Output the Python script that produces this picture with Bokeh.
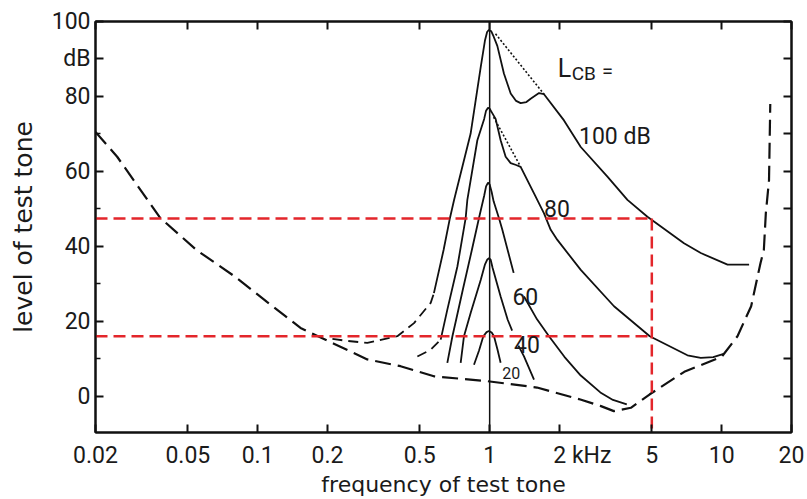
import math
from bokeh.plotting import figure
from bokeh.models import FixedTicker, LinearAxis, LogAxis, Span, Label, CustomJSTickFormatter
from bokeh.embed import file_html
from bokeh.resources import INLINE

NAN = float("nan")
PAD = "\u00a0" * 8   # keeps the "2" of "2 kHz" centred on its tick

# ---------------- axis ticks ----------------
freq_ticks = [0.02, 0.05, 0.1, 0.2, 0.5, 1, 2, 5, 10, 20]
freq_tick_labels = ["0.02", "0.05", "0.1", "0.2", "0.5", "1", PAD + "2 kHz", "5", "10", "20"]
level_ticks = [0, 20, 40, 60, 80, 90, 100]
level_tick_labels = ["0", "20", "40", "60", "80", "dB", "100"]
level_minor_ticks = [10, 30, 50, 70]
right_ticks = [0, 10, 20, 30, 40, 50, 60, 70, 80, 90, 100]
x_min, x_max = 0.02, 20
y_min, y_max = -9.7, 100

# ---------------- threshold in quiet (dashed) ----------------
thr_f = [0.02, 0.0248, 0.038, 0.0545, 0.079, 0.110, 0.153, 0.213, 0.297, 0.413, 0.575, 0.978,
         1.6, 2.46, 3.0, 3.43, 4.06, 4.9, 6.9, 10.0, 11.7, 13.4, 14.7, 15.2, 15.5, 16.0, 16.2]
thr_L = [70.5, 63.9, 47.6, 39.0, 32.1, 25.1, 18.2, 14.0, 9.8, 8.0, 5.3, 4.0,
         2.3, -0.9, -2.6, -4.0, -3.1, 0.5, 6.5, 10.5, 16.0, 24.0, 35.5, 39.0, 48.8, 57.6, 78.0]

# ---------------- masked thresholds, masker: 1 kHz critical-band noise ----------------
# L_CB = 100 dB
c100_f = [0.575, 0.633, 0.674, 0.702, 0.828, 0.915, 0.955, 0.975, 0.993, 1.015, 1.04, 1.079, 1.152,
          1.232, 1.30, 1.36, 1.44, 1.502, 1.632, 1.715, 2.091, 2.47, 3.218, 3.925, 4.786, 6.88,
          8.13, 10.6, 13.13]
c100_L = [27.5, 39.0, 47.5, 52.3, 70.1, 87.8, 95.0, 97.2, 97.8, 97.4, 96.0, 93.5, 86.1,
          80.8, 78.8, 78.2, 78.5, 79.4, 80.9, 80.6, 73.6, 66.5, 58.6, 52.4, 47.9, 40.8,
          38.2, 35.1, 35.1]
c100_ext_f = [0.21, 0.239, 0.297, 0.40, 0.472, 0.557, 0.575]
c100_ext_L = [15.3, 14.8, 14.2, 16.0, 19.5, 24.9, 27.5]
c100_dot_f = [1.06, 1.715]
c100_dot_L = [96.7, 80.6]

# L_CB = 80 dB
c80_f = [0.615, 0.657, 0.726, 0.788, 0.801, 0.885, 0.947, 0.965, 0.984, 1.0, 1.02, 1.061, 1.115,
         1.172, 1.232, 1.30, 1.36, 1.553, 1.715, 1.833, 1.958, 2.47, 3.436, 4.9, 7.12, 8.13,
         9.2, 10.2]
c80_L = [15.1, 23.1, 34.6, 47.5, 52.3, 68.3, 74.0, 76.2, 77.0, 76.7, 75.8, 74.0, 68.3,
         63.9, 62.2, 61.7, 61.2, 54.1, 48.8, 44.4, 41.7, 33.7, 24.0, 16.0, 10.9, 10.2,
         10.4, 11.3]
c80_ext_f = [0.488, 0.557, 0.615]
c80_ext_L = [10.6, 12.4, 15.1]
c80_dot_f = [1.04, 1.36]
c80_dot_L = [74.5, 61.2]

# L_CB = 60 dB (gap where the label sits)
c60_f = [0.657, 0.691, 0.717, 0.766, 0.838, 0.899, 0.947, 0.965, 0.984, 1.0, 1.02, 1.04, 1.097,
         1.134, 1.269, NAN, 1.406, 1.6, 1.802, 2.1, 2.47, 3.0, 3.4, 3.9]
c60_L = [8.9, 16.0, 20.4, 28.4, 39.0, 47.5, 53.5, 56.0, 57.0, 56.5, 54.5, 52.0, 47.5,
         44.4, 32.9, NAN, 26.6, 20.5, 16.0, 10.5, 5.5, 1.0, -1.0, -2.2]

# L_CB = 40 dB (gap where the label sits)
c40_f = [0.75, 0.775, 0.828, 0.915, 0.955, 0.975, 0.993, 1.01, 1.03, 1.115, 1.196, 1.25,
         NAN, 1.33, 1.406, 1.553]
c40_L = [8.9, 16.0, 22.2, 31.0, 35.2, 36.4, 36.8, 36.4, 34.2, 26.6, 20.4, 17.5,
         NAN, 13.5, 10.6, 4.4]

# L_CB = 20 dB
c20_f = [0.856, 0.90, 0.939, 0.97, 0.993, 1.02, 1.044, 1.08, 1.115]
c20_L = [8.4, 12.2, 16.0, 17.1, 17.4, 17.0, 16.0, 12.5, 8.9]

# masker centre frequency, and the read-out example (5 kHz test tone)
masker_f = 1.0
example_f = 5.0
example_L = [47.4, 16.0]

# curve labels
curve_labels = ["100 dB", "80", "60", "40", "20"]
curve_label_f = [2.427, 1.715, 1.253, 1.273, 1.134]
curve_label_L = [69.2, 50.1, 26.6, 13.8, 6.2]

INK = "#111111"
TXT = "#1a1a1a"
RED = "#e3262b"
TICK_FONT = "Roboto"
TITLE_FONT = "DejaVu Sans"

p = figure(width=807, height=499, x_axis_type="log",
           x_range=(x_min, x_max), y_range=(y_min, y_max),
           output_backend="svg", toolbar_location=None,
           min_border_left=95, min_border_right=16, min_border_top=21, min_border_bottom=66)
p.background_fill_color = "white"
p.border_fill_color = "white"
p.outline_line_color = INK
p.outline_line_width = 2
p.xgrid.visible = False
p.ygrid.visible = False


def style_axis(ax):
    ax.axis_line_color = INK
    ax.axis_line_width = 2
    ax.major_tick_line_color = INK
    ax.major_tick_line_width = 2
    ax.major_tick_in = 8
    ax.major_tick_out = 0
    ax.minor_tick_line_color = INK
    ax.minor_tick_line_width = 1.5
    ax.minor_tick_in = 5
    ax.minor_tick_out = 0
    ax.major_label_text_font = TICK_FONT
    ax.major_label_text_font_size = "23px"
    ax.major_label_text_color = TXT
    ax.axis_label_text_font = TITLE_FONT
    ax.axis_label_text_font_style = "normal"
    ax.axis_label_text_color = TXT


# bottom axis
xa = p.xaxis[0]
style_axis(xa)
xa.ticker = FixedTicker(ticks=freq_ticks, minor_ticks=[])
xa.formatter = CustomJSTickFormatter(code="return tick.toString()")
xa.major_label_overrides = dict(zip(freq_ticks, freq_tick_labels))
xa.major_label_standoff = 9
xa.axis_label = "frequency of test tone"
xa.axis_label_text_font_size = "22px"
xa.axis_label_standoff = 0

# left axis
ya = p.yaxis[0]
style_axis(ya)
ya.ticker = FixedTicker(ticks=level_ticks, minor_ticks=level_minor_ticks)
ya.major_label_overrides = dict(zip(level_ticks, level_tick_labels))
ya.major_label_standoff = 5
ya.axis_label = "level of test tone"
ya.axis_label_text_font_size = "25px"
ya.axis_label_standoff = 11

# top axis (ticks only)
ta = LogAxis()
style_axis(ta)
ta.ticker = FixedTicker(ticks=freq_ticks, minor_ticks=[])
ta.major_label_text_font_size = "1px"
ta.major_label_text_color = None
ta.major_label_standoff = 0
p.add_layout(ta, "above")

# right axis (ticks only)
ra = LinearAxis()
style_axis(ra)
ra.ticker = FixedTicker(ticks=right_ticks, minor_ticks=[])
ra.major_label_text_font_size = "1px"
ra.major_label_text_color = None
ra.major_label_standoff = 0
p.add_layout(ra, "right")

# masker frequency line
p.add_layout(Span(location=masker_f, dimension="height", line_color=INK, line_width=1.5))

# threshold in quiet
p.line(thr_f, thr_L, line_color=INK, line_width=2.2, line_dash="16 7")

# masked thresholds
for fs, ls in [(c100_f, c100_L), (c80_f, c80_L), (c60_f, c60_L), (c40_f, c40_L), (c20_f, c20_L)]:
    p.line(fs, ls, line_color=INK, line_width=1.8)
for fs, ls in [(c100_ext_f, c100_ext_L), (c80_ext_f, c80_ext_L)]:
    p.line(fs, ls, line_color=INK, line_width=1.8, line_dash="10 6")
for fs, ls in [(c100_dot_f, c100_dot_L), (c80_dot_f, c80_dot_L)]:
    p.line(fs, ls, line_color=INK, line_width=1.6, line_dash="2 2")

# red read-out lines
for L in example_L:
    p.line([x_min, example_f], [L, L], line_color=RED, line_width=2.5, line_dash="12 6")
p.line([example_f, example_f], [example_L[0], y_min], line_color=RED, line_width=2.5,
       line_dash="12 6")

# curve labels
for txt, fx, ly in zip(curve_labels, curve_label_f, curve_label_L):
    size = "16px" if txt == "20" else "23px"
    p.add_layout(Label(x=fx, y=ly, text=txt, text_font=TICK_FONT, text_font_size=size,
                       text_color=TXT, text_align="left", text_baseline="alphabetic"))

# L_CB =
p.add_layout(Label(x=1.965, y=87.5, text="L", text_font=TICK_FONT, text_font_size="25px",
                   text_color=TXT, text_align="left", text_baseline="alphabetic"))
p.add_layout(Label(x=2.257, y=86.2, text="CB", text_font=TICK_FONT, text_font_size="19px",
                   text_color=TXT, text_align="left", text_baseline="alphabetic"))
p.add_layout(Label(x=3.05, y=86.9, text="=", text_font=TICK_FONT, text_font_size="20px",
                   text_color=TXT, text_align="left", text_baseline="alphabetic"))

open("out.html", "w").write(file_html(p, INLINE))
